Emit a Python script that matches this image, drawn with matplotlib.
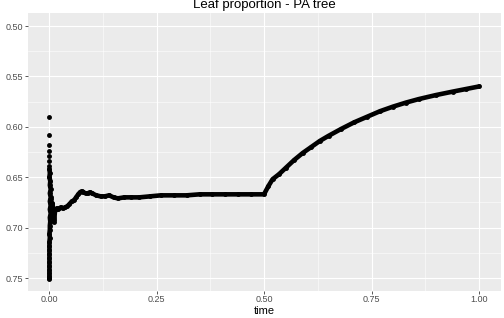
import matplotlib
matplotlib.use("Agg")
import matplotlib.pyplot as plt

plt.rcParams["font.family"] = ["Liberation Sans", "DejaVu Sans"]

# early, small-tree values near time 0: isolated dots on top
early_top_time = [0.000, 0.001, 0.001, 0.001, 0.001, 0.001, 0.001]
early_top_value = [0.590, 0.608, 0.618, 0.624, 0.629, 0.634, 0.639]

# early values packed into a solid column
early_col_time = [0.001, 0.002, 0.001, 0.003, 0.002, 0.004, 0.002, 0.004, 0.002, 0.004,
                  0.002, 0.004, 0.002, 0.003, 0.002, 0.002, 0.001, 0.002, 0.001, 0.001,
                  0.001, 0.001, 0.001, 0.001, 0.001, 0.001, 0.001, 0.001, 0.001, 0.001]
early_col_value = [0.642, 0.646, 0.650, 0.654, 0.658, 0.662, 0.666, 0.670, 0.674, 0.678,
                   0.682, 0.686, 0.690, 0.694, 0.698, 0.702, 0.706, 0.710, 0.714, 0.718,
                   0.722, 0.726, 0.730, 0.734, 0.738, 0.742, 0.745, 0.748, 0.750, 0.751]

# main trajectory
curve_time = [0.004, 0.006, 0.008, 0.010, 0.012, 0.014, 0.018, 0.022, 0.027, 0.032,
              0.037, 0.042, 0.047, 0.053, 0.058, 0.063, 0.068, 0.072, 0.076, 0.080,
              0.085, 0.090, 0.095, 0.100, 0.110, 0.120, 0.130, 0.140, 0.150, 0.160,
              0.175, 0.190, 0.210, 0.235, 0.260, 0.290, 0.320, 0.350, 0.380, 0.410,
              0.440, 0.470, 0.500,
              0.510, 0.520, 0.535, 0.550, 0.570, 0.590, 0.610, 0.630, 0.650, 0.680,
              0.710, 0.740, 0.770, 0.800, 0.830, 0.860, 0.900, 0.940, 0.970, 1.000]
curve_value = [0.672, 0.688, 0.676, 0.684, 0.694, 0.683, 0.681, 0.682, 0.680, 0.681,
               0.680, 0.679, 0.677, 0.674, 0.673, 0.670, 0.667, 0.665, 0.664, 0.665,
               0.666, 0.666, 0.665, 0.666, 0.668, 0.669, 0.669, 0.668, 0.670, 0.671,
               0.670, 0.670, 0.670, 0.669, 0.668, 0.668, 0.668, 0.667, 0.667, 0.667,
               0.667, 0.667, 0.667,
               0.659, 0.652, 0.647, 0.641, 0.633, 0.626, 0.620, 0.614, 0.609, 0.602,
               0.5955, 0.590, 0.5845, 0.580, 0.576, 0.5725, 0.5685, 0.565, 0.5625, 0.560]

x_ticks = [0.0, 0.25, 0.5, 0.75, 1.0]
y_ticks = [0.50, 0.55, 0.60, 0.65, 0.70, 0.75]

W, H, DPI = 504, 318, 72
fig = plt.figure(figsize=(W / DPI, H / DPI), dpi=DPI)
ax = fig.add_axes([27.5 / W, (H - 290.6) / H, (500.5 - 27.5) / W, (290.6 - 13.4) / H])

ax.set_facecolor("#EBEBEB")
for s in ax.spines.values():
    s.set_visible(False)

ax.set_xlim(-0.05, 1.05)
ax.set_ylim(0.7625, 0.4875)
ax.set_xticks(x_ticks)
ax.set_xticklabels([f"{v:.2f}" for v in x_ticks])
ax.set_yticks(y_ticks)
ax.set_yticklabels([f"{v:.2f}" for v in y_ticks])
ax.set_xticks([0.125, 0.375, 0.625, 0.875], minor=True)
ax.set_yticks([0.525, 0.575, 0.625, 0.675, 0.725], minor=True)
ax.grid(which="major", color="white", linewidth=1.1)
ax.grid(which="minor", color="white", linewidth=0.55)
ax.set_axisbelow(True)
ax.tick_params(which="major", length=2.75, width=0.8, color="#333333",
               labelcolor="#4D4D4D", labelsize=9, pad=2)
ax.tick_params(which="minor", length=0)

line_kw = dict(color="black", linewidth=4.6, solid_capstyle="round",
               solid_joinstyle="round", zorder=3)
ax.plot(early_col_time, early_col_value, **line_kw)
ax.plot(curve_time, curve_value, **line_kw)
for tt, vv in [(early_top_time, early_top_value), (early_col_time, early_col_value),
               (curve_time, curve_value)]:
    ax.scatter(tt, vv, s=24, color="black", linewidths=0, zorder=4)

ax.set_xlabel("time", fontsize=11, labelpad=2)
fig.text((27.5 + 500.5) / 2 / W, 1 - 8 / H, "Leaf proportion - PA tree",
         ha="center", va="baseline", fontsize=13.2)

fig.savefig("out.png", dpi=DPI)
